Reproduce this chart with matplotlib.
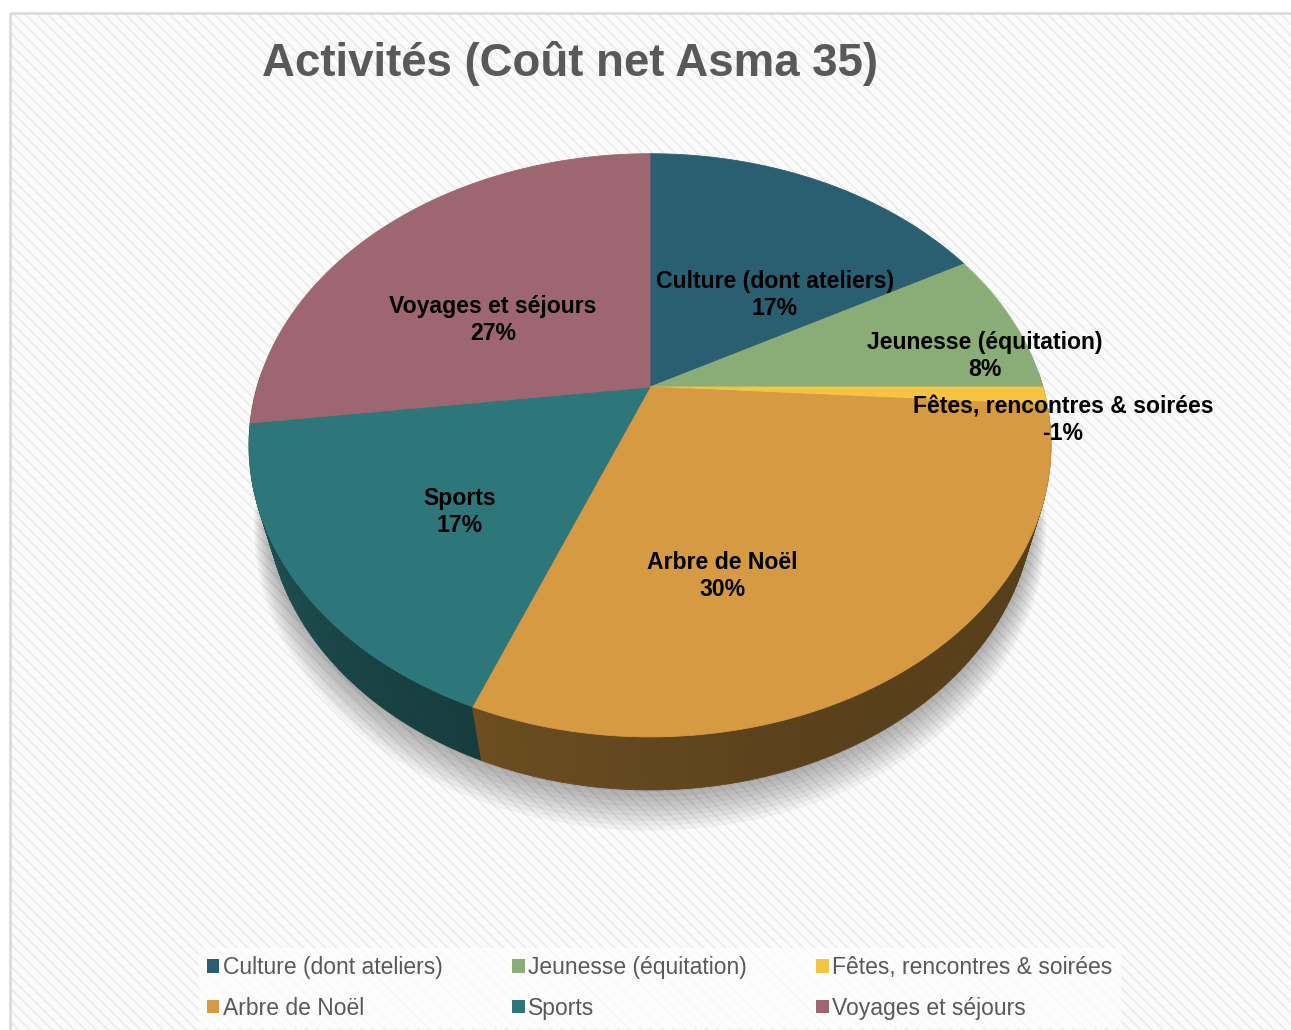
import numpy as np
import matplotlib
matplotlib.use("Agg")
import matplotlib.pyplot as plt
from matplotlib.patches import Polygon, Rectangle, Patch

plt.rcParams['font.family'] = ['Liberation Sans', 'DejaVu Sans']
plt.rcParams['hatch.linewidth'] = 1.3

# ---------------- data ----------------
categories = ["Culture (dont ateliers)", "Jeunesse (équitation)",
              "Fêtes, rencontres & soirées", "Arbre de Noël",
              "Sports", "Voyages et séjours"]
values = [17, 8, -1, 30, 17, 27]
title = "Activités (Coût net Asma 35)"

# ---------------- style ----------------
colors = ['#2a5f71', '#8aad78', '#f6c443', '#d69a42', '#2d777b', '#9d6670']
# label block centres (pixel layout)
label_pos = [(775, 295), (985, 356), (1063, 420), (722, 576), (460, 512), (493, 320)]

W, H_PX = 1291, 1030
fig = plt.figure(figsize=(W / 100, H_PX / 100), dpi=100)
ax = fig.add_axes([0, 0, 1, 1])
ax.set_xlim(0, W)
ax.set_ylim(H_PX, 0)
ax.axis('off')

# background with fine diagonal stripes + border
ax.add_patch(Rectangle((10, 13), W + 10, H_PX + 10, facecolor='#fbfbfb',
                       edgecolor='#ececec', hatch='\\\\\\', linewidth=0, zorder=0))
ax.add_patch(Rectangle((10, 13), W + 10, H_PX + 10, facecolor='none',
                       edgecolor='#d9d9d9', linewidth=1.8, zorder=1))

# ---------------- perspective pie ----------------
F = 1379.0
DD = 3.51
ca, sa = 0.7017, 0.7125
THICK = 0.219
CX, CY = 650, 387


def proj(theta, r=1.0, z=0.0):
    x = r * np.sin(theta)
    y = r * np.cos(theta)
    depth = DD + y * ca - z * sa
    X = F * x / depth
    Y = F * (y * sa + z * ca) / depth
    return CX + X, CY - Y


sizes = np.abs(np.array(values, dtype=float))
total = sizes.sum()
bounds = np.concatenate([[0], np.cumsum(sizes)]) / total * 2 * np.pi

# soft shadow
tt = np.linspace(0, 2 * np.pi, 400)
for k in range(9):
    sx, sy = proj(tt, r=1.0 + 0.006 * k, z=-THICK - 0.01 * k)
    ax.add_patch(Polygon(np.column_stack([sx, sy + 2]), closed=True,
                         facecolor='#000000', alpha=0.04, edgecolor='none', zorder=2))


def shade(theta_deg):
    return np.interp(theta_deg, [90, 160, 200, 230, 270], [0.40, 0.42, 0.50, 0.60, 0.78])


# sides
quads = []
for i in range(len(values)):
    t0, t1 = bounds[i], bounds[i + 1]
    n = max(2, int(np.degrees(t1 - t0)))
    ts = np.linspace(t0, t1, n + 1)
    base = np.array(matplotlib.colors.to_rgb(colors[i]))
    for a, b in zip(ts[:-1], ts[1:]):
        m = 0.5 * (a + b)
        if np.cos(m) > 0.05:
            continue
        xa, ya = proj(a)
        xb, yb = proj(b)
        xa2, ya2 = proj(a, z=-THICK)
        xb2, yb2 = proj(b, z=-THICK)
        c = np.clip(base * shade(np.degrees(m)), 0, 1)
        depth = DD + np.cos(m) * ca
        quads.append((depth, [[xa, ya], [xb, yb], [xb2, yb2], [xa2, ya2]], c))
quads.sort(key=lambda q: -q[0])
for _, pts, c in quads:
    ax.add_patch(Polygon(pts, closed=True, facecolor=c, edgecolor=c,
                         linewidth=0.6, zorder=3))

# top faces
for i in range(len(values)):
    t0, t1 = bounds[i], bounds[i + 1]
    ts = np.linspace(t0, t1, max(3, int(np.degrees(t1 - t0)) * 2))
    px, py = proj(ts)
    pts = np.vstack([[CX, CY], np.column_stack([px, py])])
    ax.add_patch(Polygon(pts, closed=True, facecolor=colors[i], edgecolor=colors[i],
                         linewidth=0.6, zorder=4))

# data labels
for i, name in enumerate(categories):
    pct = int(round(values[i] / total * 100))
    lx, ly = label_pos[i]
    ax.text(lx, ly, f"{name}\n{pct}%", ha='center', va='center', fontsize=16.6,
            fontweight='bold', color='black', linespacing=1.2, zorder=6)

# title
ax.text(570, 64, title, ha='center', va='center', fontsize=32.9, fontweight='bold',
        color='#595959', zorder=6)

# legend (row-wise order in 3 columns)
handles = [Patch(facecolor=colors[i], edgecolor='none', label=categories[i]) for i in range(6)]
order = [0, 3, 1, 4, 2, 5]
leg = ax.legend([handles[j] for j in order], [categories[j] for j in order],
                ncol=3, loc='center', bbox_to_anchor=(0.511, 0.0408),
                bbox_transform=ax.transAxes, fontsize=16.5, frameon=True,
                handlelength=0.55, handleheight=0.55, handletextpad=0.15,
                columnspacing=3.03, labelspacing=0.76, borderpad=0.35,
                labelcolor='#595959')
leg.get_frame().set_facecolor('white')
leg.get_frame().set_alpha(0.7)
leg.get_frame().set_edgecolor('none')
leg.set_zorder(7)

fig.savefig("out.png", dpi=100)
